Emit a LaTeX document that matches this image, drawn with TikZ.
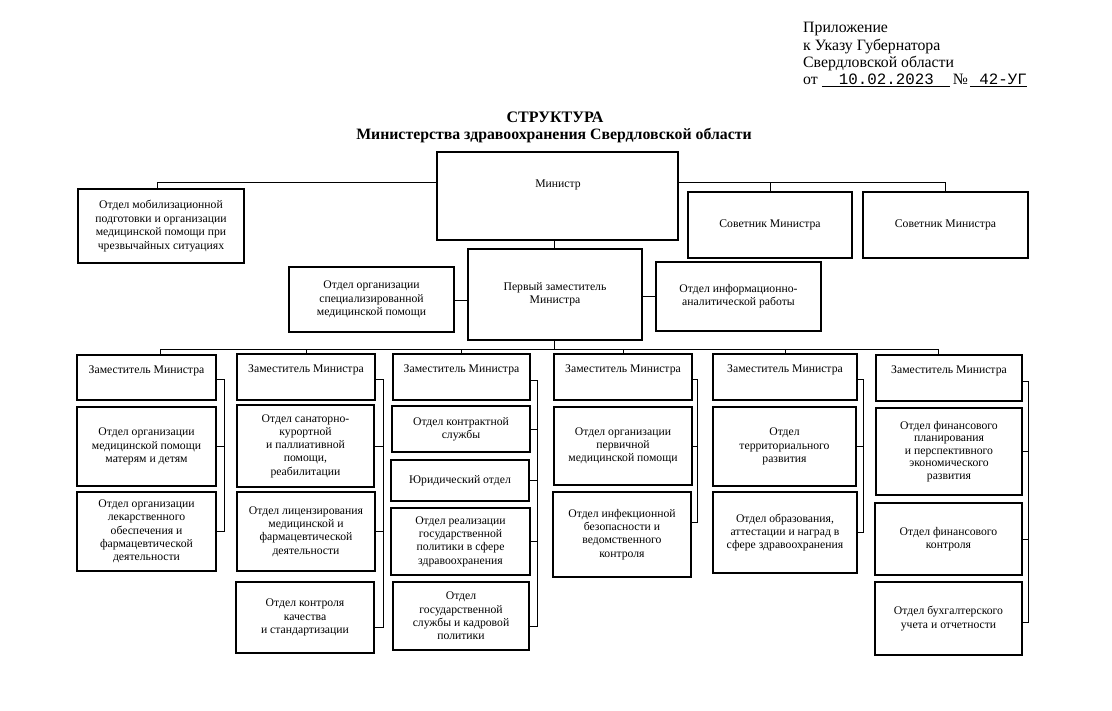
\documentclass[tikz,border=0pt]{standalone}
\usepackage{fontspec}
\setmainfont{Liberation Serif}
\setmonofont{Liberation Mono}
\newcommand\boxfont{\fontsize{11.7}{13.3}\selectfont}
\tikzset{
  box/.style={draw, line width=1.2pt, inner sep=2pt, align=center, font=\boxfont},
  conn/.style={draw, line width=0.8pt},
  lbl/.style={inner sep=0pt, align=center, font=\boxfont},
  hdr/.style={inner sep=0pt, anchor=base west, font=\fontsize{15.8}{17.3}\selectfont},
}
% \bx{name}{x1}{y1}{x2}{y2}{text}
\newcommand\bx[6]{\node[box, minimum width={(#4-#2)*1pt}, minimum height={(#5-#3)*1pt}] (#1) at ({(#2+#4)/2},{(#3+#5)/2}) {#6};}
\begin{document}
\begin{tikzpicture}[x=1pt,y=-1pt]
\useasboundingbox (0,0) rectangle (1112,711);
% header
\node[hdr] (h1) at (803,33) {Приложение};
\node[hdr] (h2) at (803,50.5) {к Указу Губернатора};
\node[hdr] (h3) at (803,67.5) {Свердловской области};
\node[hdr] (h4) at (803,85) {от \underline{\hbox to 128pt{\hfil\ttfamily 10.02.2023\hspace{16pt}}}\hspace{3pt}№\hspace{2pt}\underline{\hbox to 57pt{\hfil\ttfamily 42-УГ}}};
% title
\node[inner sep=0pt, anchor=base, font=\bfseries\fontsize{16}{17}\selectfont] (t1) at (555,123) {СТРУКТУРА};
\node[inner sep=0pt, anchor=base, font=\bfseries\fontsize{15.8}{17}\selectfont] (t2) at (554,140) {Министерства здравоохранения Свердловской области};
% top level
\bx{m}{437}{152}{678}{240}{}
\node[lbl] (mt) at (558,185) {Министр};
\node[box, font=\fontsize{11.7}{13.5}\selectfont] (mob) at (161,226) [minimum width=166pt, minimum height=74pt] {Отдел мобилизационной\\подготовки и организации\\медицинской помощи при\\чрезвычайных ситуациях};
\bx{adv1}{688}{192}{852}{258}{Советник Министра}
\bx{adv2}{863}{192}{1028}{258}{Советник Министра}
\bx{fd}{468}{249}{642}{340}{Первый заместитель\\Министра}
\bx{spec}{289}{267}{454}{332}{Отдел организации\\специализированной\\медицинской помощи}
\bx{info}{656}{262}{821}{331}{Отдел информационно-\\аналитической работы}
% deputies
\bx{d1}{77}{355}{216}{400}{}
\bx{d2}{237}{354}{375}{400}{}
\bx{d3}{393}{354}{530}{400}{}
\bx{d4}{554}{354}{692}{400}{}
\bx{d5}{713}{354}{857}{400}{}
\bx{d6}{876}{355}{1022}{401}{}
\foreach \d in {d1,d2,d3,d4,d5,d6}
  \node[lbl, anchor=base] (\d t) at ([yshift=-19pt]\d.north) {Заместитель Министра};
% column 1
\bx{a2}{77}{407}{216}{486}{Отдел организации\\медицинской помощи\\матерям и детям}
\bx{a3}{77}{492}{216}{571}{Отдел организации\\лекарственного\\обеспечения и\\фармацевтической\\деятельности}
% column 2
\bx{b2}{237}{405}{374}{487}{Отдел санаторно-\\курортной\\и паллиативной\\помощи,\\реабилитации}
\bx{b3}{237}{492}{375}{571}{Отдел лицензирования\\медицинской и\\фармацевтической\\деятельности}
\bx{b4}{236}{582}{374}{653}{Отдел контроля\\качества\\и стандартизации}
% column 3
\bx{c2}{392}{406}{530}{452}{Отдел контрактной\\службы}
\bx{c3}{391}{460}{529}{501}{Юридический отдел}
\bx{c4}{391}{508}{530}{575}{Отдел реализации\\государственной\\политики в сфере\\здравоохранения}
\bx{c5}{393}{582}{529}{650}{Отдел\\государственной\\службы и кадровой\\политики}
% column 4
\bx{e2}{554}{407}{692}{485}{Отдел организации\\первичной\\медицинской помощи}
\bx{e3}{553}{492}{691}{577}{Отдел инфекционной\\безопасности и\\ведомственного\\контроля}
% column 5
\bx{f2}{713}{407}{856}{486}{Отдел\\территориального\\развития}
\bx{f3}{713}{492}{857}{573}{Отдел образования,\\аттестации и наград в\\сфере здравоохранения}
% column 6
\node[box, minimum width=146pt, minimum height=87pt, font=\fontsize{11.7}{12.6}\selectfont] (g2) at (949,451.5) {Отдел финансового\\планирования\\и перспективного\\экономического\\развития};
\bx{g3}{875}{503}{1022}{575}{Отдел финансового\\контроля}
\bx{g4}{875}{582}{1022}{655}{Отдел бухгалтерского\\учета и отчетности}
% connectors, top
\coordinate (topbus) at (0,182);
\coordinate (bus) at (0,349);
\draw[conn] (m.west |- topbus) -| ([xshift=-4pt]mob.north);
\draw[conn] (m.east |- topbus) -| (adv2.north);
\draw[conn] (adv1.north) -- (adv1.north |- topbus);
\draw[conn] ([xshift=-1pt]fd.north) -- ([xshift=-1pt]fd.north |- m.south);
\draw[conn] ([yshift=-1pt]spec.east) -- ([yshift=-1pt]spec.east -| fd.west);
\draw[conn] (info.west) -- (info.west -| fd.east);
\draw[conn] ([xshift=-1pt]fd.south) -- ([xshift=-1pt]fd.south |- bus);
\draw[conn] ([xshift=14pt]d1.north) |- ([xshift=-11pt]d6.north |- bus) -- ([xshift=-11pt]d6.north);
\foreach \d in {d2,d3,d4,d5} \draw[conn] (\d.north) -- (\d.north |- bus);
% column buses
\draw[conn] ([yshift=-2pt]d1.east) -- ++(8,0) |- (a3.east);
\draw[conn] (a2.east) -- ++(8,0);
\draw[conn] ([yshift=-2pt]d2.east) -- ++(8,0) |- ([yshift=-10pt]b4.east);
\draw[conn] (b2.east) -- ++(9,0);
\draw[conn] (b3.east) -- ++(8,0);
\draw[conn] ([yshift=-3pt]d3.east) -- ++(7,0) |- ([yshift=-10pt]c5.east);
\draw[conn] (c2.east) -- ++(7,0);
\draw[conn] (c3.east) -- ++(8,0);
\draw[conn] (c4.east) -- ++(7,0);
\draw[conn] ([yshift=-2pt]d4.east) -- ++(5,0) |- ([yshift=12pt]e3.east);
\draw[conn] (e2.east) -- ++(5,0);
\draw[conn] ([yshift=-2pt]d5.east) -- ++(6,0) |- (f3.east);
\draw[conn] (f2.east) -- ++(7,0);
\draw[conn] ([yshift=-3pt]d6.east) -- ++(6,0) |- ([yshift=-4pt]g4.east);
\draw[conn] (g2.east) -- ++(6,0);
\draw[conn] (g3.east) -- ++(6,0);
\end{tikzpicture}
\end{document}
